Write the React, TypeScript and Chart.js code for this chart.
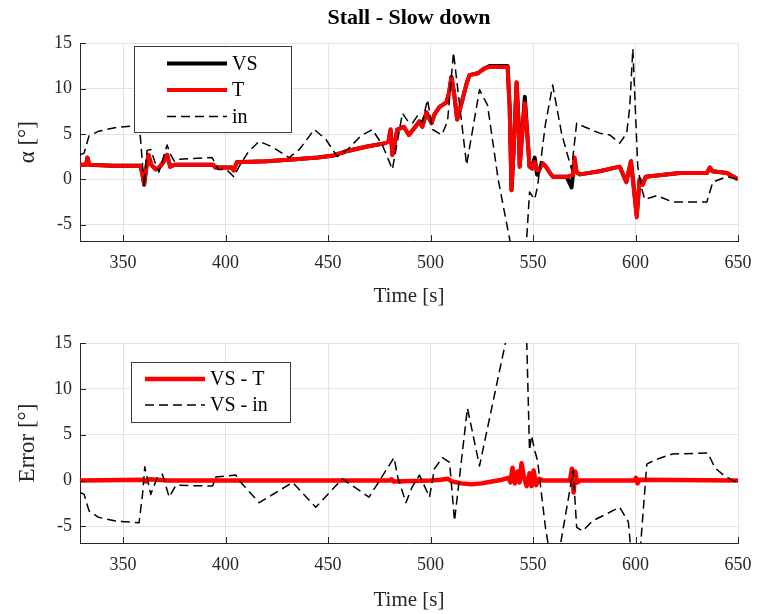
import React, { useEffect, useRef } from "react";
import { Chart, registerables } from "chart.js";

Chart.register(...registerables);

// ---------- axes ----------
const xTicks = [350, 400, 450, 500, 550, 600, 650];
const yTicks = [-5, 0, 5, 10, 15];
const xMin = 329;
const xMax = 650;
const yMin = -6.8;
const yMax = 15;

// ---------- top plot: alpha ----------
const tVS = [329, 332, 332.6, 333.5, 345, 358.5, 359.5, 360.3, 361.3, 362.4, 363.8, 366, 368, 370, 371.5, 373, 375, 394, 395, 403, 404, 405.5, 420, 432.5, 445, 452, 459, 468.5, 478, 479.5, 480.5, 481.4, 483.8, 487, 489.4, 492.6, 494.6, 496, 498, 500.5, 502, 504.4, 507.8, 509, 510.2, 511.5, 513, 515.6, 517.5, 519, 523, 526, 528.8, 537.6, 538.6, 539.5, 540.5, 542, 543, 543.5, 546, 547.5, 548.3, 549.5, 550.8, 552, 553.2, 554.5, 556, 558, 559.6, 566.4, 568.8, 570.3, 571.2, 572.8, 582.5, 592.3, 595.5, 597.8, 600.6, 602, 603.5, 605, 621.6, 634.8, 636.3, 637.5, 644.6, 650];
const aVS = [1.6, 1.6, 2.4, 1.6, 1.5, 1.5, 0.5, -0.6, 1.2, 2.7, 1.6, 1.1, 1.4, 2.0, 2.7, 1.4, 1.6, 1.6, 1.3, 1.3, 1.0, 1.9, 2.0, 2.2, 2.4, 2.6, 3.1, 3.6, 4.0, 4.2, 5.5, 2.7, 5.5, 5.8, 4.9, 5.8, 6.4, 5.8, 7.4, 6.2, 7.2, 8.0, 8.5, 9.5, 11.3, 9.5, 6.6, 8.8, 10.5, 11.5, 11.7, 12.2, 12.5, 12.5, 8.0, -1.2, 3.0, 10.7, 6.0, 1.4, 9.1, 4.0, 1.4, 1.2, 2.4, 0.5, 1.1, 1.8, 1.5, 0.8, 0.3, 0.3, -0.9, 2.2, 0.8, 0.55, 0.9, 1.4, -0.3, 2.0, -4.0, 0.0, -0.6, 0.3, 0.7, 0.7, 1.3, 0.9, 0.7, 0.0];

const tT = [329, 332, 332.6, 333.5, 345, 358.5, 359.5, 360.3, 361.3, 362.4, 363.8, 366, 368, 370, 371.5, 373, 375, 394, 395, 403, 404, 405.5, 420, 432.5, 445, 452, 459, 468.5, 478, 479.5, 480.5, 481.4, 483.8, 487, 489.4, 492.6, 494.6, 496, 498, 500.5, 502, 504.4, 507.8, 509, 510.2, 511.5, 513, 515.6, 517.5, 519, 523, 526, 528.8, 537.6, 538.6, 539.5, 540.5, 542, 543, 543.5, 546, 547.5, 548.3, 549.5, 550.8, 552, 553.2, 554.5, 556, 558, 559.6, 566.4, 569.5, 570.3, 571.2, 572.8, 582.5, 592.3, 595.5, 597.8, 600.6, 602, 603.5, 605, 621.6, 634.8, 636.3, 637.5, 644.6, 650];
const aT = [1.6, 1.6, 2.4, 1.6, 1.5, 1.5, 0.5, -0.5, 1.2, 2.7, 1.6, 1.1, 1.4, 2.0, 2.7, 1.4, 1.6, 1.6, 1.3, 1.3, 1.0, 1.9, 2.0, 2.2, 2.4, 2.6, 3.1, 3.6, 4.0, 4.2, 5.5, 2.7, 5.5, 5.8, 4.9, 5.8, 6.4, 5.8, 7.4, 6.2, 7.2, 8.0, 8.5, 9.5, 11.3, 9.5, 6.6, 8.8, 10.5, 11.5, 11.7, 12.2, 12.4, 12.4, 8.0, -1.2, 3.0, 10.7, 6.0, 1.4, 8.4, 4.0, 1.4, 1.2, 1.9, 1.0, 1.1, 1.8, 1.5, 0.8, 0.3, 0.3, 0.5, 2.4, 0.8, 0.55, 0.9, 1.4, -0.3, 2.0, -4.2, 0.0, -0.6, 0.3, 0.7, 0.7, 1.3, 0.9, 0.7, 0.0];

const tIn = [329, 331, 333.4, 338, 346, 355, 357.8, 358.6, 360.3, 361.7, 363.5, 366, 367.5, 371.5, 373, 375, 376, 393.5, 396.4, 400.3, 404, 406.6, 411, 416.4, 422.7, 431, 436, 443.3, 449, 454.5, 460, 466, 471.6, 476.5, 481.4, 486.3, 488.7, 491.2, 493.6, 496, 498.5, 501, 505.5, 508.3, 511.2, 517.6, 523.9, 527.8, 533, 538.6, 542, 546.9, 548.3, 550.8, 552.2, 556, 559.6, 564, 568.8, 571.3, 575, 582.5, 587.4, 592.3, 595.7, 597.2, 598.7, 601.1, 603, 604.5, 610.4, 618.2, 634.8, 637.7, 644.6, 650];
const aIn = [2.7, 2.9, 4.8, 5.3, 5.7, 5.9, 6.0, 4.3, -0.8, 3.2, 3.3, 1.6, 0.8, 3.8, 2.8, 2.0, 2.2, 2.4, 1.1, 1.1, 0.3, 1.4, 3.0, 4.2, 3.6, 2.4, 3.3, 5.5, 4.4, 2.5, 3.4, 4.8, 5.5, 3.8, 1.1, 7.3, 6.5, 6.2, 7.0, 6.3, 8.8, 5.5, 4.9, 6.4, 14.0, 1.6, 9.9, 8.2, 0.0, -6.6, -10.0, -6.6, -1.4, -2.2, -0.8, 6.0, 10.4, 5.0, 1.1, 6.2, 5.8, 5.1, 4.9, 4.0, 5.1, 8.0, 14.4, 1.4, -1.0, -2.2, -1.8, -2.5, -2.5, -0.3, 0.3, 0.0];

// ---------- bottom plot: error ----------
const tErrT = [329, 340, 360, 361, 362.5, 372, 480, 481, 482, 500, 505, 508.5, 510.5, 515, 520, 525, 530, 535, 538, 539, 540, 541.2, 542.5, 543.4, 544.4, 545.6, 546.9, 548.3, 549.3, 550.3, 551.5, 553, 555, 568, 569, 569.8, 570.6, 571.5, 573, 599.5, 600.2, 601, 602, 650];
const eErrT = [0, 0.05, 0.1, -0.1, 0.15, 0, 0, 0.15, -0.1, 0, 0.1, 0.2, -0.1, -0.3, -0.4, -0.3, -0.1, 0.1, 0.3, -0.2, 1.4, -0.3, 1.0, -0.2, 1.9, 0.3, -0.6, 0.8, -0.6, 1.1, -0.5, 0.2, 0, 0, 1.3, -1.3, 1.0, -0.2, 0, 0, 0.3, -0.3, 0.1, 0];

const tErrIn = [329, 331, 333.4, 338, 346.4, 357.8, 359.5, 360.6, 363.5, 366.8, 369.2, 372.5, 375.8, 393.7, 395.3, 405, 406.7, 416.4, 432.7, 444, 457, 470, 482.2, 484, 488, 491, 494.6, 499.5, 501.9, 505.8, 509.3, 511.7, 518, 523.9, 537, 542, 546.9, 548.3, 549.3, 550.8, 552.2, 556, 559.6, 563.5, 569.6, 571.3, 574.2, 579, 592.3, 596.5, 599.5, 602.5, 605.5, 610, 618, 635.3, 638.7, 643, 647.5, 650];
const eErrIn = [-1.3, -1.5, -3.3, -4.0, -4.4, -4.6, -1.5, 1.5, -1.5, 0.4, 0.7, -1.8, -0.5, -0.6, 0.4, 0.6, 0.0, -2.4, -0.2, -2.9, 0.2, -1.8, 2.5, 0.4, -2.4, -0.7, 0.6, -1.8, 1.3, 2.5, 2.0, -4.4, 7.9, 1.6, 15.5, 21.0, 15.5, 3.3, 4.9, 3.3, 2.2, -5.0, -10.0, -6.8, 1.1, -5.1, -5.5, -4.4, -2.9, -4.5, -12.0, -7.0, 1.8, 2.3, 2.9, 3.0, 1.4, 0.6, 0.0, -0.2];

// ---------- helpers ----------
const serif = "'Liberation Serif', 'Times New Roman', serif";
const pts = (t: number[], a: number[]) => t.map((x, i) => ({ x, y: a[i] }));

const inTicks = {
  id: "inTicks",
  afterDatasetsDraw(chart: any) {
    const { ctx, chartArea: ca, scales } = chart;
    ctx.save();
    ctx.strokeStyle = "#262626";
    ctx.lineWidth = 1;
    ctx.beginPath();
    xTicks.forEach((v) => {
      const px = Math.round(scales.x.getPixelForValue(v)) + 0.5;
      ctx.moveTo(px, ca.bottom);
      ctx.lineTo(px, ca.bottom - 6);
    });
    yTicks.forEach((v) => {
      const py = Math.round(scales.y.getPixelForValue(v)) + 0.5;
      ctx.moveTo(ca.left, py);
      ctx.lineTo(ca.left + 6, py);
    });
    ctx.stroke();
    ctx.restore();
  },
};

const boxLegend = {
  id: "boxLegend",
  afterDraw(chart: any, _args: any, o: any) {
    if (!o || !o.show) return;
    const { ctx, chartArea: ca } = chart;
    const x = Math.round(ca.left + o.bx) + 0.5;
    const y = Math.round(ca.top + o.by) + 0.5;
    ctx.save();
    ctx.fillStyle = "#ffffff";
    ctx.fillRect(x, y, o.bw, o.bh);
    ctx.strokeStyle = "#3a3a3a";
    ctx.lineWidth = 1;
    ctx.strokeRect(x, y, o.bw, o.bh);
    chart.data.datasets.forEach((ds: any, k: number) => {
      const cy = ca.top + o.row0 + k * o.rowH;
      ctx.beginPath();
      ctx.setLineDash(ds.borderDash || []);
      ctx.strokeStyle = ds.borderColor;
      ctx.lineWidth = ds.borderWidth;
      ctx.lineCap = "butt";
      ctx.moveTo(ca.left + o.s0, cy);
      ctx.lineTo(ca.left + o.s1, cy);
      ctx.stroke();
      ctx.setLineDash([]);
      ctx.fillStyle = "#000000";
      ctx.font = `${o.fs}px ${serif}`;
      ctx.textBaseline = "middle";
      ctx.textAlign = "left";
      ctx.fillText(ds.label, ca.left + o.tx, cy + 1);
    });
    ctx.restore();
  },
};

function makeOptions(yLabel: string, xAxisH: number, padTop: number, title: boolean, legend: any) {
  return {
    responsive: false,
    maintainAspectRatio: false,
    devicePixelRatio: 1,
    animation: false as const,
    events: [],
    layout: { padding: { left: 0, right: 20, top: padTop, bottom: 0 } },
    plugins: {
      legend: { display: false },
      tooltip: { enabled: false },
      title: {
        display: title,
        fullSize: false,
        text: "Stall - Slow down",
        color: "#000000",
        font: { family: serif, size: 22, weight: "bold" as const },
        padding: { top: 5, bottom: 12 },
      },
      boxLegend: legend,
    },
    scales: {
      x: {
        type: "linear" as const,
        min: xMin,
        max: xMax,
        afterBuildTicks: (s: any) => {
          s.ticks = xTicks.map((v) => ({ value: v }));
        },
        afterFit: (s: any) => {
          s.height = xAxisH;
          s.paddingLeft = 0;
          s.paddingRight = 0;
        },
        grid: { color: "#e4e4e4", lineWidth: 1, drawTicks: false },
        border: { display: true, color: "#262626", width: 1 },
        ticks: {
          color: "#262626",
          font: { family: serif, size: 18 },
          padding: 11,
          maxRotation: 0,
          autoSkip: false,
        },
        title: {
          display: true,
          text: "Time [s]",
          color: "#262626",
          font: { family: serif, size: 21 },
          padding: { top: 0, bottom: 1 },
        },
      },
      y: {
        type: "linear" as const,
        min: yMin,
        max: yMax,
        afterBuildTicks: (s: any) => {
          s.ticks = yTicks.map((v) => ({ value: v }));
        },
        afterFit: (s: any) => {
          s.width = 80;
          s.paddingTop = 0;
          s.paddingBottom = 0;
        },
        grid: { color: "#e4e4e4", lineWidth: 1, drawTicks: false },
        border: { display: true, color: "#262626", width: 1 },
        ticks: {
          color: "#262626",
          font: { family: serif, size: 18 },
          padding: 8,
          autoSkip: false,
        },
        title: {
          display: true,
          text: yLabel,
          color: "#262626",
          font: { family: serif, size: 23 },
          padding: { top: 14, bottom: 0 },
        },
      },
    },
  };
}

const lineBase = { pointRadius: 0, tension: 0, fill: false, borderJoinStyle: "round" as const };

export default function App() {
  const topRef = useRef<HTMLCanvasElement>(null);
  const botRef = useRef<HTMLCanvasElement>(null);

  useEffect(() => {
    const top = new Chart(topRef.current!, {
      type: "line",
      data: {
        datasets: [
          { ...lineBase, label: "VS", data: pts(tVS, aVS), borderColor: "#000000", borderWidth: 4, order: 2 },
          { ...lineBase, label: "T", data: pts(tT, aT), borderColor: "#ff0000", borderWidth: 4, order: 1 },
          { ...lineBase, label: "in", data: pts(tIn, aIn), borderColor: "#000000", borderWidth: 1.5, borderDash: [9, 5], order: 0 },
        ],
      },
      options: makeOptions("α [°]", 69, 0, true, {
        show: true, bx: 54, by: 3, bw: 157, bh: 86, row0: 20, rowH: 26.5, s0: 87, s1: 147, tx: 152, fs: 20,
      }) as any,
      plugins: [inTicks, boxLegend],
    });
    const bot = new Chart(botRef.current!, {
      type: "line",
      data: {
        datasets: [
          { ...lineBase, label: "VS - T", data: pts(tErrT, eErrT), borderColor: "#ff0000", borderWidth: 4.5, order: 1 },
          { ...lineBase, label: "VS - in", data: pts(tErrIn, eErrIn), borderColor: "#000000", borderWidth: 1.5, borderDash: [9, 5], order: 0 },
        ],
      },
      options: makeOptions("Error [°]", 71, 33, false, {
        show: true, bx: 51, by: 19, bw: 159, bh: 60, row0: 36, rowH: 26, s0: 65, s1: 125, tx: 130, fs: 20,
      }) as any,
      plugins: [inTicks, boxLegend],
    });
    return () => {
      top.destroy();
      bot.destroy();
    };
  }, []);

  return (
    <div style={{ position: "absolute", left: 0, top: 0, width: 758, height: 614, background: "#ffffff" }}>
      <canvas ref={topRef} width={758} height={310} style={{ position: "absolute", left: 0, top: 0, width: 758, height: 310 }} />
      <canvas ref={botRef} width={758} height={304} style={{ position: "absolute", left: 0, top: 310, width: 758, height: 304 }} />
    </div>
  );
}
